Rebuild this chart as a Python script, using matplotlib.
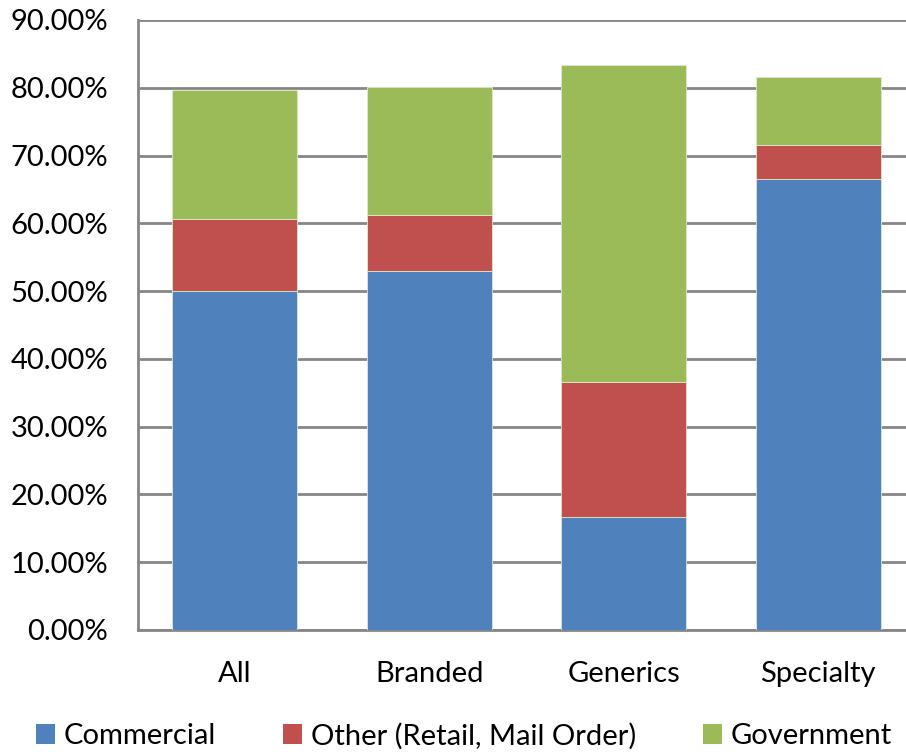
import matplotlib.pyplot as plt
from matplotlib.patches import Patch
from matplotlib.ticker import FuncFormatter

categories = ['All', 'Branded', 'Generics', 'Specialty']
commercial = [0.500, 0.529, 0.167, 0.666]
other = [0.106, 0.083, 0.199, 0.050]
government = [0.191, 0.189, 0.467, 0.100]

series_names = ['Commercial', 'Other (Retail, Mail Order)', 'Government']
colors = ['#4F81BD', '#C0504D', '#9BBB59']

plt.rcParams['font.family'] = ['Lato', 'DejaVu Sans']

fig = plt.figure(figsize=(9.06, 7.54), dpi=100)
ax = fig.add_axes([137.5 / 906, 1 - 630 / 754, 778 / 906, 610 / 754])

x = range(len(categories))
bottom = [0.0] * len(categories)
for vals, col in zip([commercial, other, government], colors):
    ax.bar(x, vals, width=0.645, bottom=bottom, color=col,
           edgecolor='#dfe8d0', linewidth=0.6, zorder=3)
    bottom = [b + v for b, v in zip(bottom, vals)]

ax.set_xlim(-0.5, 3.5)
ax.set_ylim(0, 0.9)
ax.set_yticks([i / 10 for i in range(10)])
ax.yaxis.set_major_formatter(FuncFormatter(lambda v, p: f'{v * 100:.2f}%'))
ax.set_xticks(list(x))
ax.set_xticklabels(categories)
ax.tick_params(axis='both', length=0, labelsize=21, colors='black')
ax.tick_params(axis='y', pad=21)
ax.tick_params(axis='x', pad=22)

ax.grid(axis='y', color='#868686', linewidth=2, zorder=0)
for s in ['top', 'right']:
    ax.spines[s].set_visible(False)
for s in ['left', 'bottom']:
    ax.spines[s].set_color('#868686')
    ax.spines[s].set_linewidth(2)

handles = [Patch(facecolor=c, edgecolor='none') for c in colors]
fig.legend(handles, series_names, loc='center', bbox_to_anchor=(0.512, 0.024),
           ncol=3, frameon=False, fontsize=21, handlelength=0.65,
           handleheight=0.65, handletextpad=0.3, columnspacing=2.3,
           borderaxespad=0)

fig.savefig('out.png', dpi=100)
